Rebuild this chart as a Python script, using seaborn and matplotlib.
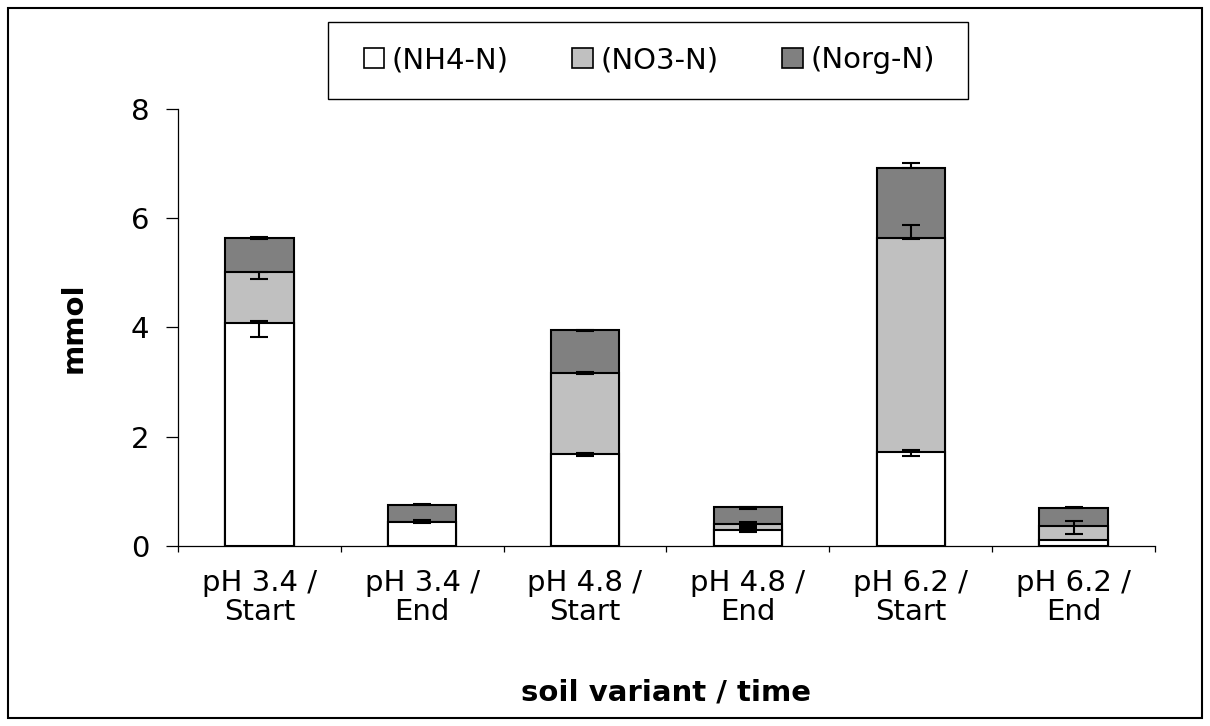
import numpy as np
import pandas as pd
import matplotlib
matplotlib.use("Agg")
import matplotlib.pyplot as plt
from matplotlib.patches import Patch, Rectangle
import seaborn as sns

# Nitrogen fractions per soil variant and sampling time (mmol)
categories = ["pH 3.4 /\nStart", "pH 3.4 /\nEnd", "pH 4.8 /\nStart",
              "pH 4.8 /\nEnd", "pH 6.2 /\nStart", "pH 6.2 /\nEnd"]
nh4 = [4.08, 0.44, 1.67, 0.28, 1.71, 0.11]
no3 = [0.93, 0.00, 1.50, 0.11, 3.94, 0.25]
norg = [0.63, 0.30, 0.78, 0.32, 1.28, 0.33]

# error bars at the top of each segment (minus, plus)
nh4_err_lo = [0.25, 0.03, 0.02, 0.03, 0.06, 0.00]
nh4_err_hi = [0.04, 0.03, 0.02, 0.05, 0.04, 0.00]
no3_err_lo = [0.12, 0.00, 0.02, 0.04, 0.03, 0.15]
no3_err_hi = [0.00, 0.00, 0.02, 0.04, 0.23, 0.09]
norg_err_lo = [0.02, 0.00, 0.01, 0.04, 0.00, 0.01]
norg_err_hi = [0.02, 0.03, 0.01, 0.00, 0.08, 0.02]

series_labels = ["(NH4-N)", "(NO3-N)", "(Norg-N)"]
series_colors = ["#FFFFFF", "#C0C0C0", "#808080"]
y_ticks = [0, 2, 4, 6, 8]

sns.set_theme(style="white")
plt.rcParams["font.family"] = ["DejaVu Sans"]
plt.rcParams.update({"text.color": "black", "axes.labelcolor": "black",
                     "xtick.color": "black", "ytick.color": "black"})
FS = 21

df = pd.DataFrame({"variant": categories, "NH4": nh4, "NO3": no3, "Norg": norg})
df["lvl1"] = df["NH4"]
df["lvl2"] = df["NH4"] + df["NO3"]
df["lvl3"] = df["lvl2"] + df["Norg"]

fig = plt.figure(figsize=(12.1, 7.26), dpi=100)
ax = fig.add_axes([0.1471, 0.2486, 0.8074, 0.6006])

# stacked bars: draw cumulative totals from the top layer down
for col, color in zip(["lvl3", "lvl2", "lvl1"], series_colors[::-1]):
    sns.barplot(data=df, x="variant", y=col, order=categories, color=color,
                saturation=1, edgecolor="black", linewidth=1.5, width=0.42,
                errorbar=None, ax=ax, zorder=2)

pos = np.arange(len(categories))
for top, lo, hi in [(df["lvl1"].to_numpy(), nh4_err_lo, nh4_err_hi),
                    (df["lvl2"].to_numpy(), no3_err_lo, no3_err_hi),
                    (df["lvl3"].to_numpy(), norg_err_lo, norg_err_hi)]:
    lo = np.asarray(lo)
    hi = np.asarray(hi)
    keep = (lo + hi) > 0
    ax.errorbar(pos[keep], top[keep], yerr=[lo[keep], hi[keep]], fmt="none",
                ecolor="black", elinewidth=1.5, capsize=6.5, capthick=1.5,
                zorder=5)

ax.set_xlim(-0.5, len(categories) - 0.5)
ax.set_ylim(0, 8)
ax.set_yticks(y_ticks)
ax.set_yticklabels([str(t) for t in y_ticks])
ax.set_xticks(pos)
ax.set_xticklabels(categories, linespacing=1.05)
ax.set_xticks(np.arange(-0.5, len(categories), 1.0), minor=True)

for side in ["top", "right"]:
    ax.spines[side].set_visible(False)
for side in ["left", "bottom"]:
    ax.spines[side].set_color("black")
    ax.spines[side].set_linewidth(0.9)

ax.tick_params(axis="y", which="major", direction="out", length=8.6, width=0.9,
               color="black", labelsize=FS, pad=12, left=True)
ax.tick_params(axis="x", which="major", length=0, labelsize=FS, pad=17)
ax.tick_params(axis="x", which="minor", direction="out", length=4, width=0.9,
               color="black", bottom=True)
ax.grid(False)

ax.set_ylabel("mmol", fontsize=FS, fontweight="bold")
ax.yaxis.set_label_coords(-0.092, 0.5)
ax.set_xlabel("soil variant / time", fontsize=FS, fontweight="bold")
ax.xaxis.set_label_coords(0.5, -0.304)

# legend box
fig.patches.append(Rectangle((0.2711, 0.8636), 0.5289, 0.1061, transform=fig.transFigure,
                             fill=True, facecolor="white", edgecolor="black",
                             linewidth=1.0, zorder=1))
handles = [Patch(facecolor=c, edgecolor="black", linewidth=1.2) for c in series_colors]
leg = fig.legend(handles, series_labels, loc="center", bbox_to_anchor=(0.5364, 0.9167),
                 ncol=3, frameon=False, fontsize=FS, handlelength=0.7, handleheight=0.7,
                 handletextpad=0.25, columnspacing=2.2, borderpad=0)

# chart border
fig.patches.append(Rectangle((8 / 1210, 8 / 726), 1194 / 1210, 710 / 726,
                             transform=fig.transFigure, fill=False,
                             edgecolor="black", linewidth=1.5))

fig.savefig("out.png", dpi=100)
